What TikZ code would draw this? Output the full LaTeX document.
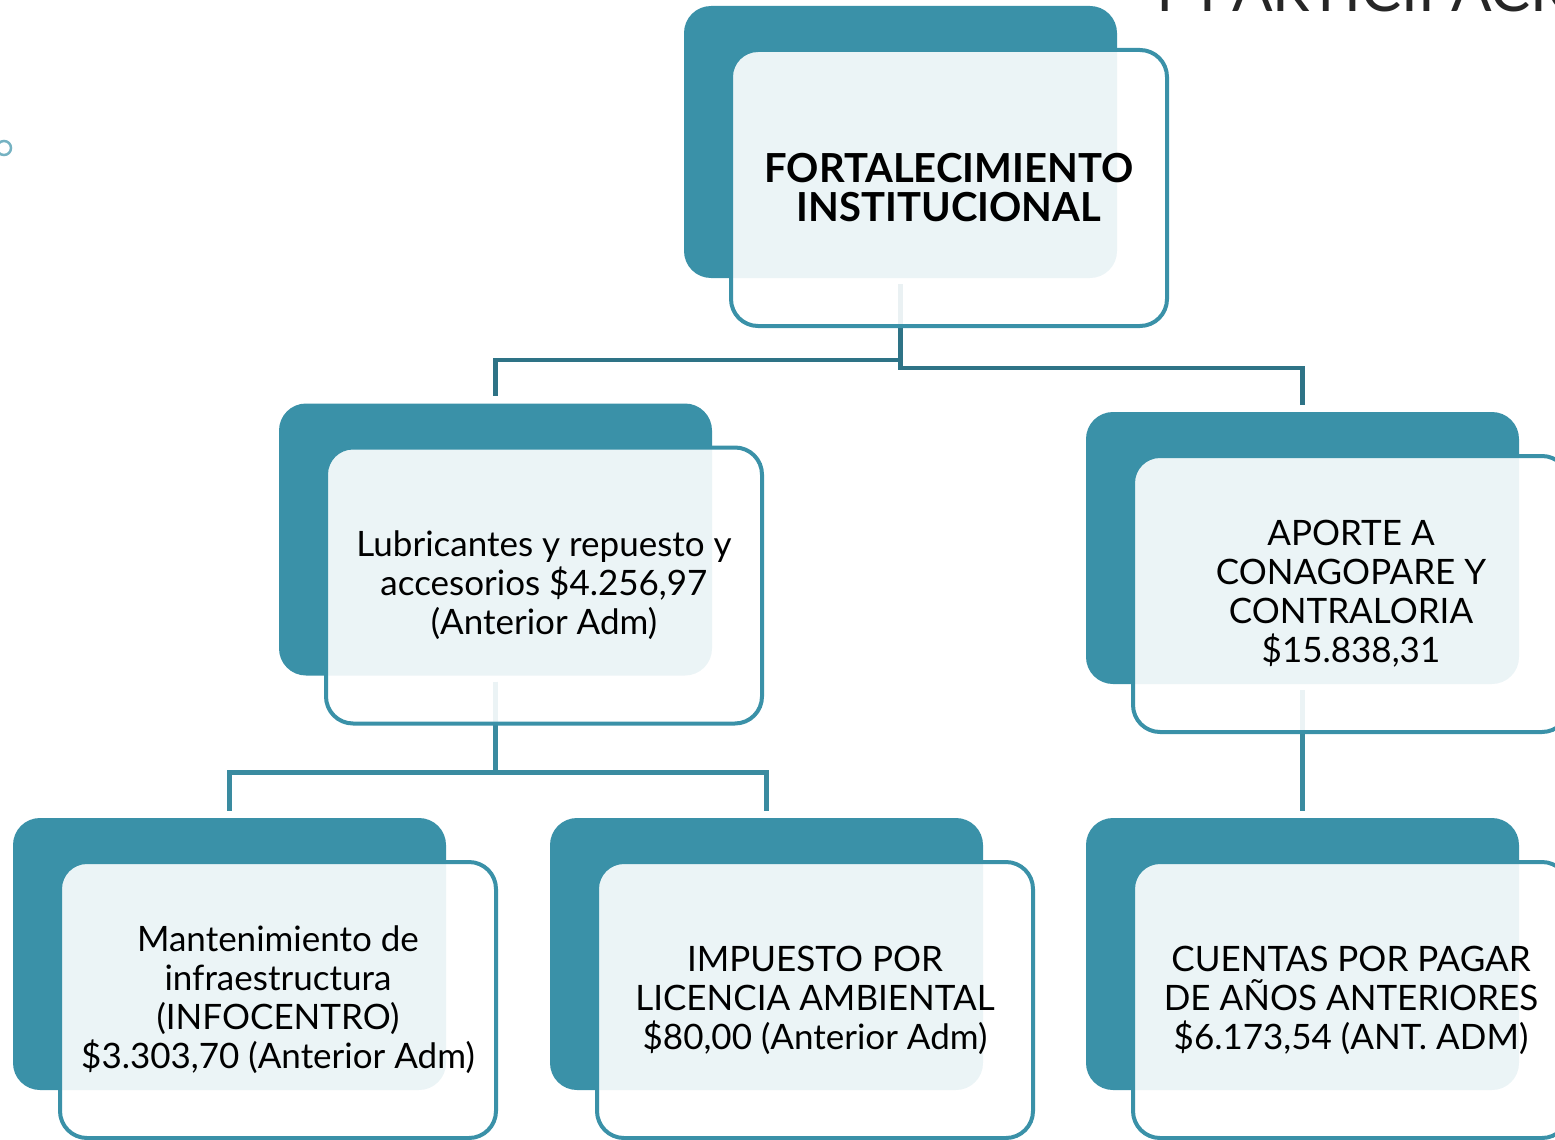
\documentclass[tikz,border=0pt]{standalone}
\usepackage{fontspec}
\setmainfont{Lato}
\usetikzlibrary{positioning}
\definecolor{boxteal}{HTML}{3A91A8}
\definecolor{linkdark}{HTML}{2E7386}
\definecolor{linklight}{HTML}{3A8BA0}
\definecolor{titlegrey}{HTML}{262626}
\tikzset{
  back/.style={fill=boxteal, rounded corners=27pt, minimum width=433pt, minimum height=272pt, inner sep=0pt},
  front/.style={draw=boxteal, line width=4pt, fill=white, fill opacity=0.9, text opacity=1,
    rounded corners=27pt, minimum width=436pt, minimum height=276pt, inner sep=0pt,
    align=center, font=\fontsize{35}{39}\selectfont},
  link/.style={line width=4.5pt, shorten >=7pt, shorten <=6pt}
}
\begin{document}
\begin{tikzpicture}[x=1pt,y=-1pt]
\clip (0,0) rectangle (1555,1140);
%% back boxes
\node[back] (topback) at (900.5,142) {};
\node[back] (lubback) at (495.5,539.5) {};
\node[back] (aporteback) at (1302.5,548) {};
\node[back] (infoback) at (229.5,954) {};
\node[back] (impback) at (766.5,954) {};
\node[back] (cuentasback) at (1302.5,954) {};
%% connectors
\draw[link, linkdark] (topback.south) -- ++(0,82) -| (lubback.north);
\draw[link, linkdark] (topback.south) -- ++(0,90) -| (aporteback.north);
\draw[link, linklight] (lubback.south) -- ++(0,97) -| (infoback.north);
\draw[link, linklight] (lubback.south) -- ++(0,97) -| (impback.north);
\draw[link, linklight] (aporteback.south) -- (cuentasback.north);
%% front boxes
\node[front, font=\fontsize{40}{39}\selectfont\bfseries] (top) at ([shift={(48.5,46)}]topback.center)
  {FORTALECIMIENTO\\INSTITUCIONAL};
\node[front] (lub) at ([shift={(48.5,46)}]lubback.center)
  {Lubricantes y repuesto y\\accesorios \$4.256,97\\(Anterior Adm)};
\node[front] (aporte) at ([shift={(48.5,46)}]aporteback.center)
  {APORTE A\\CONAGOPARE Y\\CONTRALORIA\\\$15.838,31};
\node[front] (info) at ([shift={(48.5,46)}]infoback.center)
  {Mantenimiento de\\infraestructura\\(INFOCENTRO)\\\$3.303,70 (Anterior Adm)};
\node[front] (imp) at ([shift={(48.5,46)}]impback.center)
  {IMPUESTO POR\\LICENCIA AMBIENTAL\\\$80,00 (Anterior Adm)};
\node[front] (cuentas) at ([shift={(48.5,46)}]cuentasback.center)
  {CUENTAS POR PAGAR\\DE AÑOS ANTERIORES\\\$6.173,54 (ANT. ADM)};
%% page leftovers
\draw[color=boxteal!70, line width=2.5pt] (4,148) circle (7);
\node[anchor=base west, inner sep=0pt, text=titlegrey, font=\fontsize{60}{60}\selectfont] (title) at (1146,12) {Y PARTICIPACIÓN};
\end{tikzpicture}
\end{document}
